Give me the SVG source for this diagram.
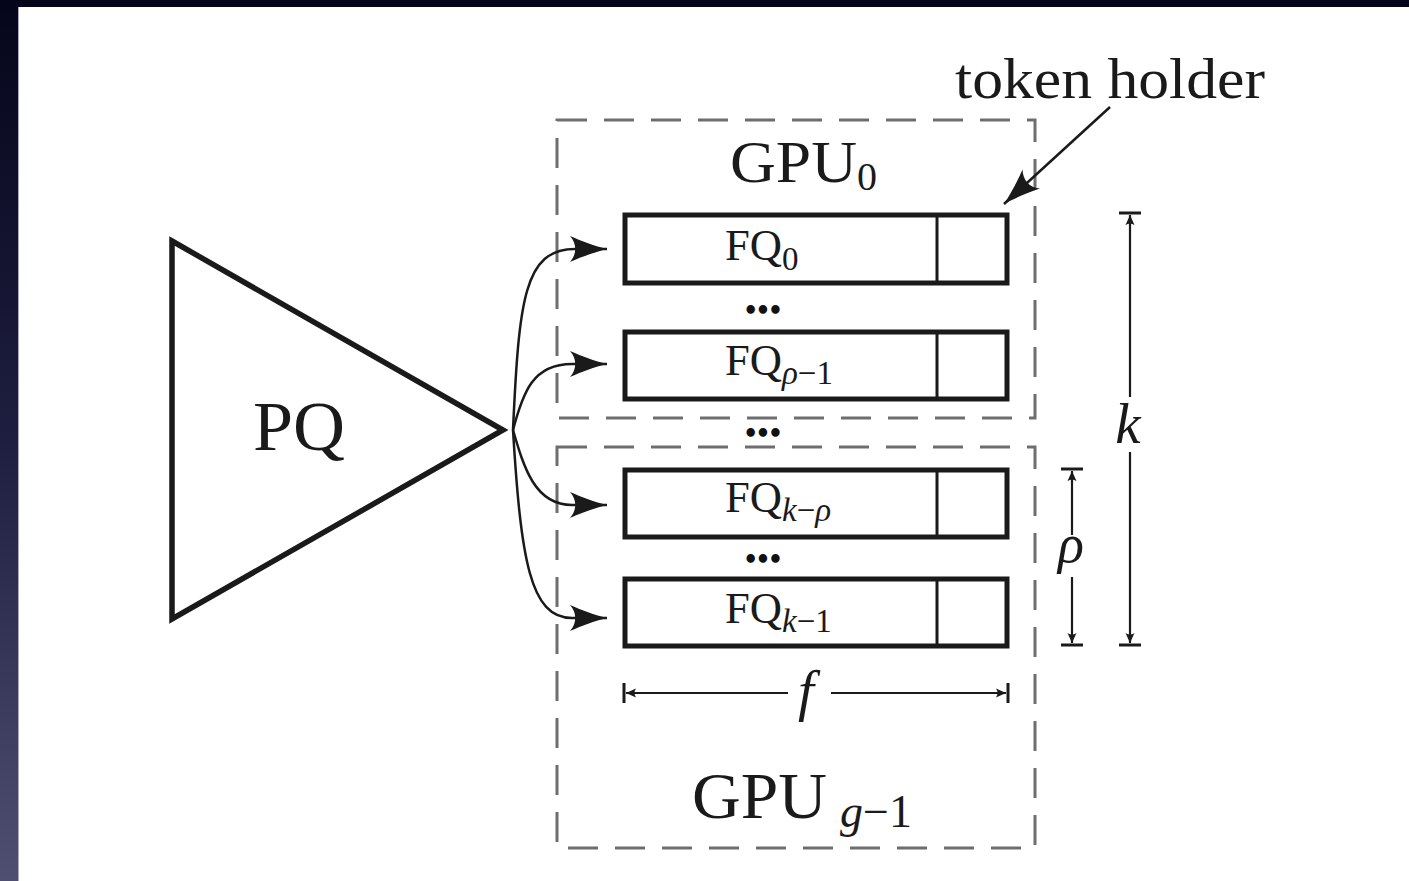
<svg xmlns="http://www.w3.org/2000/svg" width="1409" height="881" viewBox="0 0 1409 881">
  <defs>
    <linearGradient id="edge" x1="0" y1="0" x2="0" y2="1">
      <stop offset="0" stop-color="#05051a"/>
      <stop offset="0.5" stop-color="#1e1e40"/>
      <stop offset="1" stop-color="#4f4f72"/>
    </linearGradient>
    <marker id="head" viewBox="-40 -15 42 30" refX="0" refY="0" markerWidth="42" markerHeight="30" markerUnits="userSpaceOnUse" orient="auto">
      <path d="M0,0 C-12,-3 -26,-8 -37,-13 C-30,-5 -30,5 -37,13 C-26,8 -12,3 0,0 Z" fill="#1a1a1a"/>
    </marker>
    <marker id="tick" viewBox="-12 -6 14 12" refX="0" refY="0" markerWidth="14" markerHeight="12" markerUnits="userSpaceOnUse" orient="auto">
      <path d="M0,0 L-10,-4.5 Q-7,0 -10,4.5 Z" fill="#1a1a1a"/>
    </marker>
    <style>
      .txt { font-family: "Liberation Serif", "DejaVu Serif", serif; fill: #1a1a1a; }
      .it { font-style: italic; }
      .queue { fill: #ffffff; stroke: #1a1a1a; stroke-width: 5; }
      .gpu { fill: none; stroke: #6e6e6e; stroke-width: 3; stroke-dasharray: 30 17; }
      .conn { fill: none; stroke: #1a1a1a; stroke-width: 2.5; marker-end: url(#head); }
      .dimarrow { fill: none; stroke: #1a1a1a; stroke-width: 2.2; marker-end: url(#tick); }
      .bar { stroke: #1a1a1a; stroke-width: 3; }
      .dots { font-family: "DejaVu Sans", sans-serif; fill: #111111; font-size: 24px; font-weight: bold; }
    </style>
  </defs>

  <!-- page backdrop -->
  <rect x="0" y="0" width="1409" height="881" fill="url(#edge)"/>
  <rect x="0" y="0" width="1409" height="7" fill="#05051a"/>
  <rect x="18" y="7" width="1391" height="874" fill="#ffffff"/>
  <line x1="18.5" y1="7" x2="18.5" y2="881" stroke="#a8a8c4" stroke-width="1"/>

  <!-- priority queue -->
  <g id="pq">
    <polygon points="172,241 503,430 172,619" fill="#ffffff" stroke="#1a1a1a" stroke-width="5.5" stroke-linejoin="miter"/>
    <text class="txt" x="253" y="450" font-size="70" textLength="92" lengthAdjust="spacingAndGlyphs">PQ</text>
  </g>

  <!-- GPU containers -->
  <g id="gpu0">
    <rect class="gpu" x="557" y="120" width="478" height="298"/>
    <text class="txt" x="730" y="182" font-size="60"><tspan textLength="127" lengthAdjust="spacingAndGlyphs">GPU</tspan><tspan x="857" y="190" font-size="40">0</tspan></text>
  </g>
  <g id="gpu-last">
    <rect class="gpu" x="557" y="447" width="478" height="401"/>
    <text class="txt" x="692" y="818" font-size="66"><tspan textLength="135" lengthAdjust="spacingAndGlyphs">GPU</tspan><tspan x="840" y="827" font-size="46" class="it">g</tspan><tspan font-size="46">−1</tspan></text>
  </g>

  <!-- frontier queues with token holder slots -->
  <g id="fq0">
    <rect class="queue" x="625" y="215" width="382" height="68"/>
    <line class="bar" x1="937" y1="215" x2="937" y2="283" stroke-width="5"/>
    <text class="txt" x="725" y="260" font-size="44"><tspan textLength="57" lengthAdjust="spacingAndGlyphs">FQ</tspan><tspan x="782" y="270" font-size="33">0</tspan></text>
  </g>
  <g id="fq-rho-1">
    <rect class="queue" x="625" y="332" width="382" height="67"/>
    <line class="bar" x1="937" y1="332" x2="937" y2="399" stroke-width="5"/>
    <text class="txt" x="725" y="375" font-size="44"><tspan textLength="57" lengthAdjust="spacingAndGlyphs">FQ</tspan><tspan x="782" y="384" font-size="33" class="it">ρ</tspan><tspan font-size="33">−1</tspan></text>
  </g>
  <g id="fq-k-rho">
    <rect class="queue" x="625" y="470" width="382" height="67"/>
    <line class="bar" x1="937" y1="470" x2="937" y2="537" stroke-width="5"/>
    <text class="txt" x="725" y="512" font-size="44"><tspan textLength="57" lengthAdjust="spacingAndGlyphs">FQ</tspan><tspan x="782" y="521" font-size="33" class="it">k</tspan><tspan font-size="33">−</tspan><tspan font-size="33" class="it">ρ</tspan></text>
  </g>
  <g id="fq-k-1">
    <rect class="queue" x="625" y="579" width="382" height="67"/>
    <line class="bar" x1="937" y1="579" x2="937" y2="646" stroke-width="5"/>
    <text class="txt" x="725" y="623" font-size="44"><tspan textLength="57" lengthAdjust="spacingAndGlyphs">FQ</tspan><tspan x="782" y="632" font-size="33" class="it">k</tspan><tspan font-size="33">−1</tspan></text>
  </g>

  <!-- ellipses between queues -->
  <g id="ellipses">
    <text class="dots" x="743" y="319" textLength="40" lengthAdjust="spacing">•••</text>
    <text class="dots" x="743" y="442" textLength="40" lengthAdjust="spacing">•••</text>
    <text class="dots" x="743" y="568" textLength="40" lengthAdjust="spacing">•••</text>
  </g>

  <!-- token holder callout -->
  <g id="token-holder">
    <text class="txt" x="955" y="98" font-size="57" textLength="310" lengthAdjust="spacingAndGlyphs">token holder</text>
  </g>

  <!-- connectors -->
  <g id="connectors">
    <path class="conn" d="M513,430 C519,300 524,249 575,249 L607,249"/>
    <path class="conn" d="M513,430 C523,392 533,364 572,364 L607,364"/>
    <path class="conn" d="M513,430 C524,468 535,505 572,505 L607,505"/>
    <path class="conn" d="M513,430 C521,560 530,618 572,618 L607,618"/>
    <line class="conn" x1="1110" y1="107" x2="1004" y2="204"/>
  </g>

  <!-- dimension annotations -->
  <g id="dim-k">
    <line class="bar" x1="1119" y1="213" x2="1141" y2="213"/>
    <line class="bar" x1="1119" y1="645" x2="1141" y2="645"/>
    <line class="dimarrow" x1="1130" y1="397" x2="1130" y2="215"/>
    <line class="dimarrow" x1="1130" y1="452" x2="1130" y2="643"/>
    <text class="txt it" x="1128" y="443" font-size="57" text-anchor="middle">k</text>
  </g>
  <g id="dim-rho">
    <line class="bar" x1="1061" y1="469" x2="1083" y2="469"/>
    <line class="bar" x1="1061" y1="645" x2="1083" y2="645"/>
    <line class="dimarrow" x1="1072" y1="535" x2="1072" y2="471"/>
    <line class="dimarrow" x1="1072" y1="577" x2="1072" y2="643"/>
    <text class="txt it" x="1071" y="562" font-size="54" text-anchor="middle">ρ</text>
  </g>
  <g id="dim-f">
    <line class="bar" x1="624" y1="683" x2="624" y2="703"/>
    <line class="bar" x1="1008" y1="683" x2="1008" y2="703"/>
    <line class="dimarrow" x1="788" y1="693" x2="626" y2="693"/>
    <line class="dimarrow" x1="831" y1="693" x2="1006" y2="693"/>
    <text class="txt it" x="806" y="710" font-size="57" text-anchor="middle">f</text>
  </g>
</svg>
